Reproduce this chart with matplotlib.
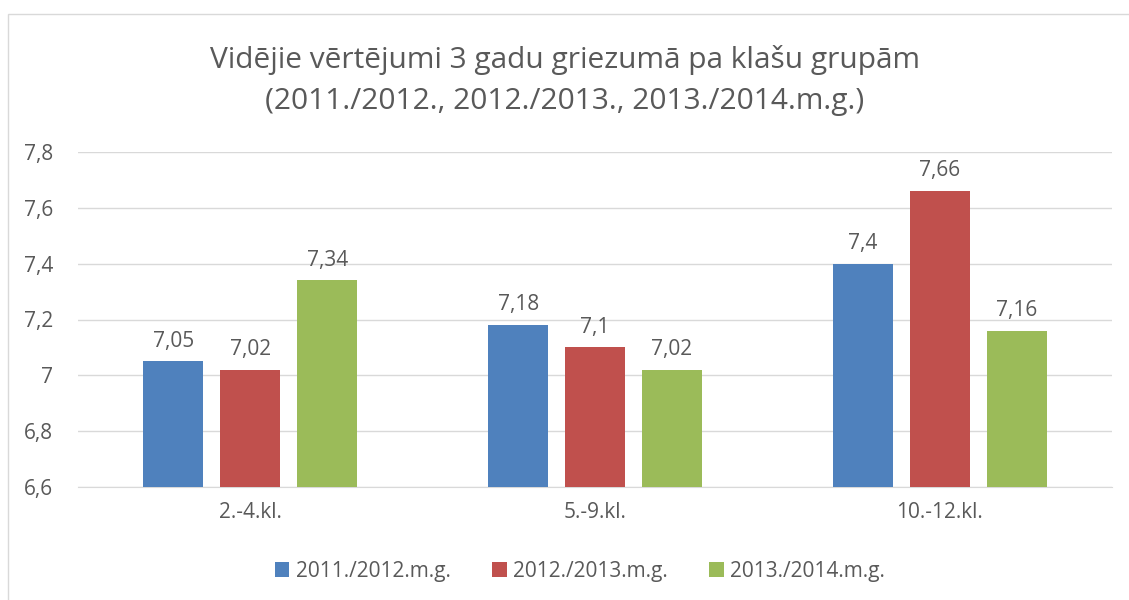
import matplotlib.pyplot as plt
import numpy as np
from matplotlib.patches import Rectangle

plt.rcParams['font.family'] = ['Open Sans', 'DejaVu Sans']

categories = ['2.-4.kl.', '5.-9.kl.', '10.-12.kl.']
series = ['2011./2012.m.g.', '2012./2013.m.g.', '2013./2014.m.g.']
v2012 = [7.05, 7.18, 7.40]
v2013 = [7.02, 7.10, 7.66]
v2014 = [7.34, 7.02, 7.16]
yticks = [6.6, 6.8, 7.0, 7.2, 7.4, 7.6, 7.8]

colors = ['#4F81BD', '#C0504D', '#9BBB59']
txt = '#595959'


def fmt(v):
    s = ('%.2f' % v).rstrip('0').rstrip('.')
    return s.replace('.', ',')


fig = plt.figure(figsize=(11.29, 6), dpi=100)
# chart frame
fig.patches.append(Rectangle((8 / 1129, -0.1), 1.2, 1 - 14 / 600 + 0.1,
                             transform=fig.transFigure, fill=False,
                             edgecolor='#D9D9D9', linewidth=1))

ax = fig.add_axes([78 / 1129, 1 - 487 / 600, (1112 - 78) / 1129, (487 - 152) / 600])

x = np.arange(len(categories))
w = 0.174
step = 0.223
for i, vals in enumerate([v2012, v2013, v2014]):
    pos = x + (i - 1) * step
    ax.bar(pos, [v - 6.6 for v in vals], w, bottom=6.6,
           color=colors[i], label=series[i], zorder=3)
    for p, v in zip(pos, vals):
        ax.text(p, v + 0.035, fmt(v), ha='center', va='bottom',
                fontsize=15, color=txt)

ax.set_xlim(-0.5, 2.5)
ax.set_ylim(6.6, 7.8)
ax.set_yticks(yticks)
ax.set_yticklabels([fmt(t) for t in yticks], fontsize=15, color=txt)
ax.set_xticks(x)
ax.set_xticklabels(categories, fontsize=15, color=txt)
ax.tick_params(axis='both', length=0)
ax.tick_params(axis='y', pad=18)
ax.tick_params(axis='x', pad=11)
ax.grid(axis='y', color='#D9D9D9', linewidth=1, zorder=0)
for s in ['top', 'right', 'left']:
    ax.spines[s].set_visible(False)
ax.spines['bottom'].set_color('#D9D9D9')

fig.text(0.5, 1 - 60 / 600, 'Vidējie vērtējumi 3 gadu griezumā pa klašu grupām',
         ha='center', va='center', fontsize=21.5, color=txt)
fig.text(0.5, 1 - 101 / 600, '(2011./2012., 2012./2013., 2013./2014.m.g.)',
         ha='center', va='center', fontsize=21.5, color=txt)

fig.legend(loc='center', bbox_to_anchor=(580 / 1129, 1 - 571 / 600), ncol=3,
           frameon=False, fontsize=15, handlelength=0.7, handleheight=0.7,
           handletextpad=0.3, columnspacing=2.0, labelcolor=txt)

fig.savefig('out.png', dpi=100)
